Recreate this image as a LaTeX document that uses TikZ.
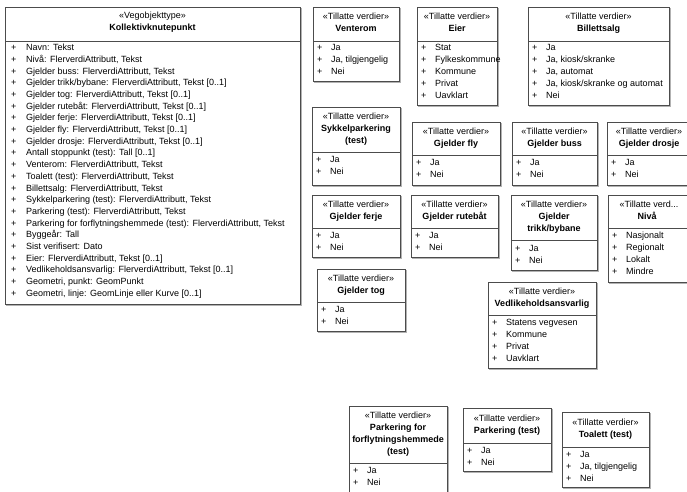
\documentclass[tikz,border=0pt]{standalone}
\usepackage{fontspec}
\setmainfont{Liberation Sans}
\begin{document}
\begin{tikzpicture}[x=1pt,y=-1pt,
  boxst/.style={draw=black!70, line width=0.7pt, fill=white, inner sep=0pt, outer sep=0pt},
  boxline/.style={draw=black!70, line width=0.7pt},
  shadowst/.style={draw=black!30, line width=1pt},
  ttl/.style={inner sep=0pt, anchor=mid, font=\fontsize{9}{11}\selectfont},
  btl/.style={inner sep=0pt, anchor=mid, font=\fontsize{9}{11}\selectfont\bfseries},
  itm/.style={inner sep=0pt, anchor=mid west, font=\fontsize{9}{11}\selectfont}]
\clip (0,0) rectangle (687,491);
\fill[white] (0,0) rectangle (687,491);
\newcommand\frameb[6]{%
  \draw[shadowst] (#2+1,#5+1) -- (#4+1,#5+1) -- (#4+1,#3+1);
  \node[boxst, anchor=north west, minimum width={#4-#2}, minimum height={#5-#3}] (#1) at (#2,#3) {};
  \draw[boxline] (#2,#6) -- (#4,#6);}
\newcommand\itemsb[5]{%
  \foreach \t [count=\i from 0] in {#5}
    \node[itm] (#1-\i) at (#2, #3+\i*#4) {\makebox[14pt][l]{+}\t};}
% main
\frameb{main}{5}{7}{300}{304}{41}
\node[ttl] (main-s) at (152.5,16) {«Vegobjekttype»};
\node[btl] (main-n) at (152.5,28) {Kollektivknutepunkt};
\foreach \t [count=\i from 0] in {Navn: Tekst,
 {Nivå: FlerverdiAttributt, Tekst},
 {Gjelder buss: FlerverdiAttributt, Tekst},
 {Gjelder trikk/bybane: FlerverdiAttributt, Tekst [0..1]},
 {Gjelder tog: FlerverdiAttributt, Tekst [0..1]},
 {Gjelder rutebåt: FlerverdiAttributt, Tekst [0..1]},
 {Gjelder ferje: FlerverdiAttributt, Tekst [0..1]},
 {Gjelder fly: FlerverdiAttributt, Tekst [0..1]},
 {Gjelder drosje: FlerverdiAttributt, Tekst [0..1]},
 {Antall stoppunkt (test): Tall [0..1]},
 {Venterom: FlerverdiAttributt, Tekst},
 {Toalett (test): FlerverdiAttributt, Tekst},
 {Billettsalg: FlerverdiAttributt, Tekst},
 {Sykkelparkering (test): FlerverdiAttributt, Tekst},
 {Parkering (test): FlerverdiAttributt, Tekst},
 {Parkering for forflytningshemmede (test): FlerverdiAttributt, Tekst},
 Byggeår: Tall,
 Sist verifisert: Dato,
 {Eier: FlerverdiAttributt, Tekst [0..1]},
 {Vedlikeholdsansvarlig: FlerverdiAttributt, Tekst [0..1]},
 {Geometri, punkt: GeomPunkt},
 {Geometri, linje: GeomLinje eller Kurve [0..1]}}
  \node[itm] (main-\i) at (11, 48+\i*11.7) {\makebox[15pt][l]{+}\t};
% Venterom
\frameb{vent}{313}{7}{399}{81}{41}
\node[ttl] (vent-s) at (356,17) {«Tillatte verdier»};
\node[btl] (vent-n) at (356,29) {Venterom};
\itemsb{vent}{317}{48}{12}{Ja,{Ja, tilgjengelig},Nei}
% Eier
\frameb{eier}{417}{7}{497}{105}{41}
\node[ttl] (eier-s) at (457,17) {«Tillatte verdier»};
\node[btl] (eier-n) at (457,29) {Eier};
\itemsb{eier}{421}{48}{12}{Stat,Fylkeskommune,Kommune,Privat,Uavklart}
% Billettsalg
\frameb{bill}{528}{7}{669}{105}{41}
\node[ttl] (bill-s) at (598.5,17) {«Tillatte verdier»};
\node[btl] (bill-n) at (598.5,29) {Billettsalg};
\itemsb{bill}{532}{48}{12}{Ja,{Ja, kiosk/skranke},{Ja, automat},{Ja, kiosk/skranke og automat},Nei}
% Sykkelparkering
\frameb{sykk}{312}{107}{400}{185}{152}
\node[ttl] (sykk-s) at (356,117) {«Tillatte verdier»};
\node[btl] (sykk-n) at (356,129) {Sykkelparkering};
\node[btl] (sykk-m) at (356,141) {(test)};
\itemsb{sykk}{316}{160}{12}{Ja,Nei}
% Gjelder fly
\frameb{fly}{412}{122}{500}{185}{155}
\node[ttl] (fly-s) at (456,132) {«Tillatte verdier»};
\node[btl] (fly-n) at (456,144) {Gjelder fly};
\itemsb{fly}{416}{163}{12}{Ja,Nei}
% Gjelder buss
\frameb{buss}{512}{122}{597}{185}{155}
\node[ttl] (buss-s) at (554.5,132) {«Tillatte verdier»};
\node[btl] (buss-n) at (554.5,144) {Gjelder buss};
\itemsb{buss}{516}{163}{12}{Ja,Nei}
% Gjelder drosje
\frameb{dros}{607}{122}{691}{185}{155}
\node[ttl] (dros-s) at (649,132) {«Tillatte verdier»};
\node[btl] (dros-n) at (649,144) {Gjelder drosje};
\itemsb{dros}{611}{163}{12}{Ja,Nei}
% Gjelder ferje
\frameb{ferj}{312}{195}{400}{257}{228}
\node[ttl] (ferj-s) at (356,205) {«Tillatte verdier»};
\node[btl] (ferj-n) at (356,217) {Gjelder ferje};
\itemsb{ferj}{316}{236}{12}{Ja,Nei}
% Gjelder rutebat
\frameb{rute}{411}{195}{498}{257}{228}
\node[ttl] (rute-s) at (454.5,205) {«Tillatte verdier»};
\node[btl] (rute-n) at (454.5,217) {Gjelder rutebåt};
\itemsb{rute}{415}{236}{12}{Ja,Nei}
% Gjelder trikk
\frameb{trik}{511}{195}{597}{270}{240}
\node[ttl] (trik-s) at (554,205) {«Tillatte verdier»};
\node[btl] (trik-n) at (554,217) {Gjelder};
\node[btl] (trik-m) at (554,229) {trikk/bybane};
\itemsb{trik}{515}{249}{12}{Ja,Nei}
% Niva
\frameb{niva}{608}{195}{691}{282}{228}
\node[ttl] (niva-s) at (649,205) {«Tillatte verd...};
\node[btl] (niva-n) at (647,217) {Nivå};
\itemsb{niva}{612}{236}{12}{Nasjonalt,Regionalt,Lokalt,Mindre}
% Gjelder tog
\frameb{tog}{317}{269}{405}{331}{302}
\node[ttl] (tog-s) at (361,279) {«Tillatte verdier»};
\node[btl] (tog-n) at (361,291) {Gjelder tog};
\itemsb{tog}{321}{310}{12}{Ja,Nei}
% Vedlikeholdsansvarlig
\frameb{vedl}{488}{282}{596}{368}{315}
\node[ttl] (vedl-s) at (542,292) {«Tillatte verdier»};
\node[btl] (vedl-n) at (542,304) {Vedlikeholdsansvarlig};
\itemsb{vedl}{492}{323}{12}{Statens vegvesen,Kommune,Privat,Uavklart}
% Parkering for forflytningshemmede
\frameb{pfor}{349}{406}{447}{496}{463}
\node[ttl] (pfor-s) at (398,416) {«Tillatte verdier»};
\node[btl] (pfor-n) at (398,428) {Parkering for};
\node[btl] (pfor-m) at (398,440) {forflytningshemmede};
\node[btl] (pfor-o) at (398,452) {(test)};
\itemsb{pfor}{353}{471}{12}{Ja,Nei}
% Parkering (test)
\frameb{park}{463}{408}{551}{471}{443}
\node[ttl] (park-s) at (507,419) {«Tillatte verdier»};
\node[btl] (park-n) at (507,431) {Parkering (test)};
\itemsb{park}{467}{451}{12}{Ja,Nei}
% Toalett (test)
\frameb{toal}{562}{412}{649}{487}{447}
\node[ttl] (toal-s) at (605.5,423) {«Tillatte verdier»};
\node[btl] (toal-n) at (605.5,435) {Toalett (test)};
\itemsb{toal}{566}{455}{12}{Ja,{Ja, tilgjengelig},Nei}
\end{tikzpicture}
\end{document}
